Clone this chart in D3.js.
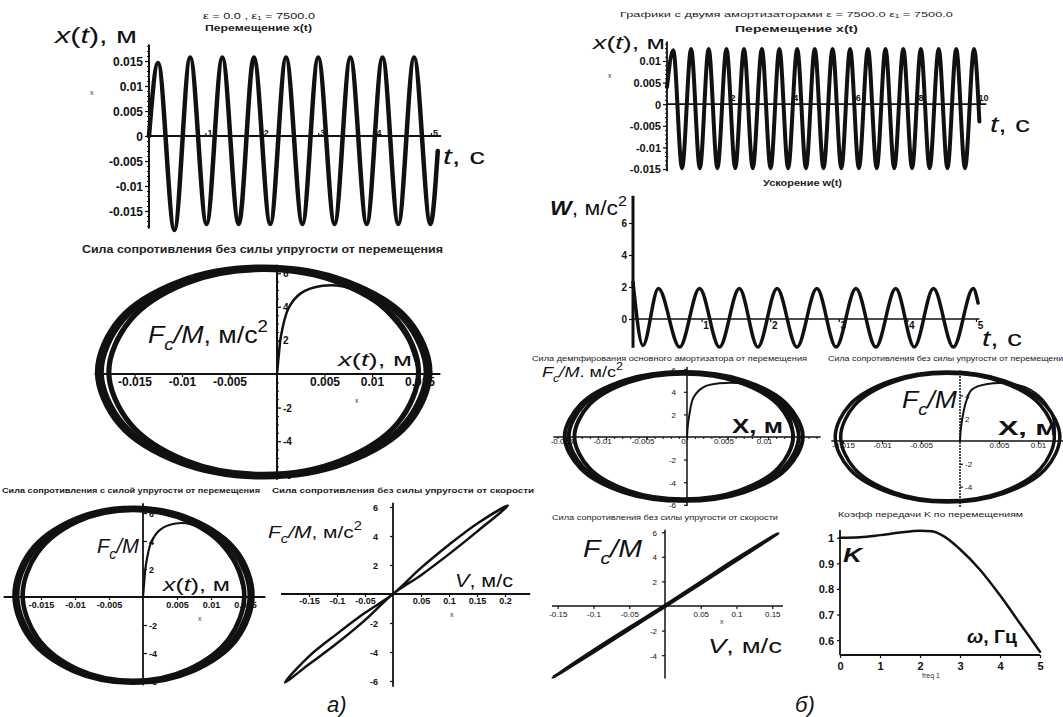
<!DOCTYPE html>
<html>
<head>
<meta charset="utf-8">
<script src="https://cdn.jsdelivr.net/npm/d3@7"></script>
<style>
  body { margin: 0; background: #fff; }
  text { font-family: "Liberation Sans", Arial, sans-serif; }
</style>
</head>
<body>
<svg id="chart" width="1063" height="717"></svg>
<script>
// ---- data ----

// а) displacement x(t): start, extrema, end  [t, x]
const a_disp = [[0, 0], [0.16, 0.0146], [0.45, -0.0188], [0.73, 0.0157], [1.02, -0.0176], [1.30, 0.0157],
    [1.59, -0.0176], [1.86, 0.0157], [2.15, -0.0176], [2.43, 0.0157], [2.72, -0.0176], [3.00, 0.0157],
    [3.29, -0.0176], [3.57, 0.0157], [3.86, -0.0176], [4.14, 0.0157], [4.42, -0.0176], [4.70, 0.0157],
    [4.99, -0.0176], [5.12, -0.003]];
const a_disp_xticks = [1, 2, 3, 4, 5];
const a_disp_yticks = [-0.015, -0.01, -0.005, 0, 0.005, 0.01, 0.015];

// б) displacement x(t), 0..10 s
const b_disp = [[0, 0.004], [0.20, 0.0125], [0.48, -0.0148], [0.77, 0.0128], [1.05, -0.0148], [1.33, 0.0128],
    [1.61, -0.0148], [1.90, 0.0128], [2.18, -0.0148], [2.46, 0.0128], [2.74, -0.0148], [3.03, 0.0128],
    [3.31, -0.0148], [3.59, 0.0128], [3.87, -0.0148], [4.16, 0.0128], [4.44, -0.0148], [4.72, 0.0128],
    [5.00, -0.0148], [5.29, 0.0128], [5.57, -0.0148], [5.85, 0.0128], [6.13, -0.0148], [6.42, 0.0128],
    [6.70, -0.0148], [6.98, 0.0128], [7.26, -0.0148], [7.55, 0.0128], [7.83, -0.0148], [8.11, 0.0128],
    [8.39, -0.0148], [8.68, 0.0128], [8.96, -0.0148], [9.24, 0.0128], [9.52, -0.0148], [9.81, 0.0128],
    [9.98, -0.004]];
const b_disp_xticks = [2, 4, 6, 8, 10];
const b_disp_yticks = [-0.015, -0.01, -0.005, 0, 0.005, 0.01];

// б) acceleration w(t)
const b_accel = [[0, 2.3], [0.145, -1.65], [0.37, 1.9], [0.68, -1.75], [0.97, 1.9], [1.26, -1.75], [1.55, 1.9],
    [1.82, -1.75], [2.10, 1.9], [2.39, -1.75], [2.68, 1.9], [2.96, -1.75], [3.25, 1.9], [3.54, -1.75],
    [3.83, 1.9], [4.10, -1.75], [4.38, 1.9], [4.67, -1.75], [4.96, 1.9], [5.03, 1.0]];
const b_accel_xticks = [1, 2, 3, 4, 5];
const b_accel_yticks = [0, 2, 4, 6];

// а) force/displacement loops [x, Fc/M] (outer, middle, inner turn, start-up arc)
const loop_a_outer = [[0.0161, 0.12], [0.0138, 3.25], [0.0073, 5.53], [-0.0014, 6.37], [-0.0102, 5.53], [-0.0166, 3.25],
    [-0.0189, 0.12], [-0.0166, -3.0], [-0.0102, -5.29], [-0.0014, -6.13], [0.0073, -5.29], [0.0138, -3.0]];
const loop_a_mid = [[0.0157, 0.12], [0.0134, 3.22], [0.0071, 5.49], [-0.0014, 6.32], [-0.0100, 5.49], [-0.0162, 3.22],
    [-0.0185, 0.12], [-0.0162, -2.98], [-0.0100, -5.25], [-0.0014, -6.08], [0.0071, -5.25], [0.0134, -2.98]];
const loop_a_inner = [[0.0149, 0.12], [0.0127, 3.17], [0.0067, 5.40], [-0.0014, 6.22], [-0.0096, 5.40], [-0.0155, 3.17],
    [-0.0177, 0.12], [-0.0155, -2.93], [-0.0096, -5.16], [-0.0014, -5.98], [0.0067, -5.16], [0.0127, -2.93]];
const loop_a_start = [[0, 0], [0.0002, 1.2], [0.0004, 2.2], [0.0012, 3.9], [0.0025, 4.8], [0.0048, 5.25],
    [0.007, 5.2], [0.0095, 4.6], [0.012, 3.4], [0.0138, 2.0], [0.0149, 0.12]];
const loop_a_xticks = [-0.015, -0.01, -0.005, 0.005, 0.01, 0.015];
const loop_a_yticks = [-6, -4, -2, 2, 4, 6];

// а) force/velocity loop [v, Fc/M]
const vel_a_loop = [[0, 0], [0.05, 1.3], [0.1, 2.75], [0.15, 4.3], [0.205, 6.1], [0.15, 4.85], [0.1, 3.4], [0.05, 1.8],
    [0, 0], [-0.05, -1.3], [-0.1, -2.75], [-0.15, -4.3], [-0.193, -6.1], [-0.15, -4.85], [-0.1, -3.4], [-0.05, -1.8]];
const vel_a_xticks = [-0.15, -0.1, -0.05, 0.05, 0.1, 0.15, 0.2];
const vel_a_yticks = [-6, -4, -2, 2, 4, 6];

// б) damping force of the main absorber vs displacement
const loop_b1_outer = [[0.0143, 0.05], [0.0123, 2.90], [0.0070, 4.99], [-0.0004, 5.75], [-0.0078, 4.99], [-0.0131, 2.90],
    [-0.0151, 0.05], [-0.0131, -2.80], [-0.0078, -4.89], [-0.0004, -5.65], [0.0070, -4.89], [0.0123, -2.80]];
const loop_b1_mid = [[0.0138, 0.05], [0.0119, 2.88], [0.0067, 4.94], [-0.0004, 5.70], [-0.0075, 4.94], [-0.0127, 2.88],
    [-0.0146, 0.05], [-0.0127, -2.78], [-0.0075, -4.84], [-0.0004, -5.60], [0.0067, -4.84], [0.0119, -2.78]];
const loop_b1_inner = [[0.0131, 0.05], [0.0113, 2.83], [0.0064, 4.86], [-0.0004, 5.60], [-0.0072, 4.86], [-0.0121, 2.83],
    [-0.0139, 0.05], [-0.0121, -2.73], [-0.0072, -4.76], [-0.0004, -5.50], [0.0064, -4.76], [0.0113, -2.73]];
const loop_b1_start = [[0, 0], [0.0001, 1.0], [0.0003, 2.0], [0.0008, 3.5], [0.002, 4.4], [0.004, 4.75],
    [0.007, 4.7], [0.0095, 4.0], [0.0115, 2.9], [0.0128, 1.6], [0.0131, 0.05]];
const loop_b1_xticks = [-0.015, -0.01, -0.005, 0, 0.005, 0.01];
const loop_b1_yticks = [-6, -4, -2, 2, 4, 6];

// б) resistance force without elastic force vs displacement
const loop_b2_outer = [[0.0128, 0.35], [0.0109, 3.20], [0.0056, 5.29], [-0.0016, 6.05], [-0.0088, 5.29], [-0.0141, 3.20],
    [-0.0160, 0.35], [-0.0141, -2.50], [-0.0088, -4.59], [-0.0016, -5.35], [0.0056, -4.59], [0.0109, -2.50]];
const loop_b2_inner = [[0.0121, 0.35], [0.0103, 3.15], [0.0053, 5.20], [-0.0016, 5.95], [-0.0085, 5.20], [-0.0135, 3.15],
    [-0.0153, 0.35], [-0.0135, -2.45], [-0.0085, -4.50], [-0.0016, -5.25], [0.0053, -4.50], [0.0103, -2.45]];
const loop_b2_start = [[0, 0], [0.0001, 1.0], [0.0003, 2.0], [0.0008, 3.5], [0.0015, 4.5], [0.0035, 5.0],
    [0.0068, 5.0], [0.009, 4.5], [0.011, 3.3], [0.012, 1.8], [0.0121, 0.35]];
const loop_b2_xticks = [-0.015, -0.01, -0.005, 0.005, 0.01];
const loop_b2_yticks = [-4, -2, 2, 4, 6];

// б) force vs velocity
const vel_b_loop = [[-0.157, -5.8], [-0.1, -3.75], [-0.05, -1.9], [0, -0.05], [0.05, 1.8], [0.1, 3.7], [0.158, 5.9],
    [0.1, 3.85], [0.05, 1.95], [0, 0.05], [-0.05, -1.75], [-0.1, -3.6]];
const vel_b_xticks = [-0.15, -0.1, -0.05, 0.05, 0.1, 0.15];
const vel_b_yticks = [-4, -2, 2, 4, 6];

// б) transfer coefficient K vs frequency
const k_freq = [0, 0.5, 1, 1.5, 2, 2.3, 2.6, 3, 3.5, 4, 4.5, 5];
const k_value = [1.0, 1.002, 1.01, 1.02, 1.027, 1.025, 1.005, 0.955, 0.875, 0.775, 0.665, 0.555];
const k_xticks = [0, 1, 2, 3, 4, 5];
const k_yticks = [0.6, 0.7, 0.8, 0.9, 1];

// ---- drawing ----
const svg = d3.select("#chart");
svg.append("rect").attr("width", 1063).attr("height", 717).attr("fill", "#fff");
const INK = "#111";

function curve_path(data, x, y, curve, width) {
    svg.append("path").datum(data)
        .attr("fill", "none").attr("stroke", INK).attr("stroke-width", width)
        .attr("stroke-linejoin", "round").attr("stroke-linecap", "round")
        .attr("d", d3.line().x(d => x(d[0])).y(d => y(d[1])).curve(curve));
}

function hline(x, y, from, to, width, dash) {
    svg.append("line").attr("x1", x(from)).attr("x2", x(to)).attr("y1", y(0)).attr("y2", y(0))
        .attr("stroke", INK).attr("stroke-width", width).attr("stroke-dasharray", dash || null);
}
function vline(x, y, from, to, width, dash) {
    svg.append("line").attr("x1", x(0)).attr("x2", x(0)).attr("y1", y(from)).attr("y2", y(to))
        .attr("stroke", INK).attr("stroke-width", width).attr("stroke-dasharray", dash || null);
}

// ticks on an axis crossing the origin, labels are optional
function ticks(orient, scale, pos, values, o) {
    o = o || {};
    const maker = {left: d3.axisLeft, right: d3.axisRight, top: d3.axisTop, bottom: d3.axisBottom}[orient];
    const ax = maker(scale).tickValues(values).tickSize(o.size || 3).tickPadding(o.pad || 2)
        .tickFormat(o.labels === false ? "" : d => String(d));
    const horiz = orient === "top" || orient === "bottom";
    const g = svg.append("g")
        .attr("transform", horiz ? `translate(0,${pos})` : `translate(${pos},0)`)
        .call(ax);
    g.select(".domain").remove();
    g.selectAll("line").attr("stroke", INK).attr("stroke-width", o.tw || 1.2);
    g.selectAll("text")
        .attr("fill", INK)
        .attr("font-family", "Liberation Sans, Arial, sans-serif")
        .attr("font-size", o.fs || 9)
        .attr("font-weight", o.fw || "bold");
    if (o.dx !== undefined) g.selectAll("text").attr("dx", o.dx);
    if (o.dy !== undefined) g.selectAll("text").attr("dy", o.dy);
    if (o.anchor) g.selectAll("text").attr("text-anchor", o.anchor);
    return g;
}

// text with italic / bold / sub / sup parts: flags i b _ ^
function rich(x0, y0, parts, size, width) {
    const t = svg.append("text").attr("x", x0).attr("y", y0).attr("font-size", size).attr("fill", INK);
    if (width) t.attr("textLength", width).attr("lengthAdjust", "spacingAndGlyphs");
    let shift = 0;
    parts.forEach(([s, f]) => {
        const ts = t.append("tspan").text(s);
        let want = 0;
        if (f.includes("_")) want = size * 0.3;
        if (f.includes("^")) want = -size * 0.45;
        if (want !== shift) ts.attr("dy", want - shift);
        shift = want;
        if (want !== 0) ts.attr("font-size", size * 0.7);
        if (f.includes("i")) ts.attr("font-style", "italic");
        if (f.includes("b")) ts.attr("font-weight", "bold");
    });
    return t;
}

function title(x0, y0, s, width, size, weight) {
    svg.append("text").attr("x", x0).attr("y", y0).text(s)
        .attr("font-size", size).attr("font-weight", weight || "bold").attr("fill", "#222")
        .attr("textLength", width).attr("lengthAdjust", "spacingAndGlyphs");
}
function tiny(x0, y0, s) {
    svg.append("text").attr("x", x0).attr("y", y0).text(s).attr("font-size", 7).attr("fill", "#333");
}

// ---------- а) x(t) ----------
{
    const x = d3.scaleLinear().domain([0, 5]).range([149, 431]);
    const y = d3.scaleLinear().domain([-0.015, 0.015]).range([211, 61]);
    hline(x, y, 0, 5.18, 2);
    vline(x, y, -0.0185, 0.0183, 2);
    ticks("left", y, x(0), d3.ticks(-0.018, 0.018, 36), {labels: false, size: 2, tw: 1});
    ticks("left", y, x(0), a_disp_yticks, {size: 4, fs: 12, dy: "0.35em"});
    ticks("top", x, y(0), a_disp_xticks, {size: 3, fs: 9, dx: 4, dy: "0.5em"});
    curve_path(a_disp, x, y, d3.curveMonotoneX, 4.5);
    rich(55, 43, [["x", "i"], ["(", ""], ["t", "i"], ["), м", ""]], 22, 82);
    rich(443, 164, [["t", "i"], [", с", ""]], 22, 42);
    title(203, 19, "ε = 0.0 , ε₁ = 7500.0", 112, 9, "normal");
    title(205, 31, "Перемещение x(t)", 107, 9);
    tiny(90, 95, "x");
}

// ---------- б) x(t) ----------
{
    const x = d3.scaleLinear().domain([0, 10]).range([667, 980]);
    const y = d3.scaleLinear().domain([-0.015, 0.01]).range([169, 61]);
    hline(x, y, 0, 10.2, 1.8);
    vline(x, y, -0.0155, 0.0145, 1.8);
    ticks("left", y, x(0), d3.ticks(-0.015, 0.014, 30), {labels: false, size: 2, tw: 1});
    ticks("left", y, x(0), b_disp_yticks, {size: 4, fs: 11, dy: "0.35em"});
    ticks("top", x, y(0), b_disp_xticks, {size: 3, fs: 9, dx: 3, dy: "0.2em"});
    curve_path(b_disp, x, y, d3.curveMonotoneX, 4);
    rich(593, 49, [["x", "i"], ["(", ""], ["t", "i"], ["), м", ""]], 19, 72);
    rich(990, 132, [["t", "i"], [", с", ""]], 22, 40);
    title(620, 17, "Графики с двумя амортизаторами ε = 7500.0    ε₁ = 7500.0", 333, 8, "normal");
    title(735, 32, "Перемещение x(t)", 123, 9);
    tiny(608, 78, "x");
}

// ---------- б) w(t) ----------
{
    const x = d3.scaleLinear().domain([0, 5]).range([633, 976]);
    const y = d3.scaleLinear().domain([-2, 7.5]).range([351, 199]);
    hline(x, y, 0, 5.05, 1.5);
    vline(x, y, -1.8, 7.7, 3);
    ticks("left", y, x(0), b_accel_yticks, {size: 4, fs: 10, dy: "0.35em"});
    ticks("bottom", x, y(0), b_accel_xticks, {size: 3, fs: 10, dx: 4, dy: "0.5em"});
    curve_path(b_accel, x, y, d3.curveMonotoneX, 3.5);
    rich(550, 215, [["W", "ib"], [", м/с", ""], ["2", "^"]], 20, 77);
    rich(982, 346, [["t", "i"], [", с", ""]], 22, 40);
    title(763, 186, "Ускорение w(t)", 79, 9);
}

// ---------- а) Fc/M vs x, no elastic force ----------
{
    const x = d3.scaleLinear().domain([-0.02, 0.017]).range([87, 438.5]);
    const y = d3.scaleLinear().domain([-6.3, 6.5]).range([479.8, 264.8]);
    hline(x, y, -0.0192, 0.0172, 2);
    vline(x, y, -6.3, 6.5, 2);
    ticks("right", y, x(0), d3.ticks(-6, 6, 30), {labels: false, size: 2, tw: 1});
    ticks("right", y, x(0), loop_a_yticks, {size: 4, fs: 10, dy: "0.35em"});
    ticks("bottom", x, y(0), loop_a_xticks, {size: 3, fs: 12, dy: "0.6em"});
    [loop_a_outer, loop_a_mid, loop_a_inner].forEach(l => curve_path(l, x, y, d3.curveCatmullRomClosed, 5.2));
    curve_path(loop_a_start, x, y, d3.curveCatmullRom, 2.5);
    rich(148, 343, [["F", "i"], ["c", "i_"], ["/M", "i"], [", м/с", ""], ["2", "^"]], 24, 120);
    rich(338, 366, [["x", "i"], ["(", ""], ["t", "i"], ["), м", ""]], 18, 74);
    title(82, 253, "Сила сопротивления без силы упругости от перемещения", 361, 10);
    tiny(355, 403, "x");
}

// ---------- а) with elastic force ----------
{
    const x = d3.scaleLinear().domain([-0.021, 0.018]).range([0.2, 265.4]);
    const y = d3.scaleLinear().domain([-6.6, 6.8]).range([689.4, 501.8]);
    hline(x, y, -0.0205, 0.018, 1.8);
    vline(x, y, -6.3, 6.7, 1.8);
    ticks("right", y, x(0), loop_a_yticks, {size: 4, fs: 9, dy: "0.35em"});
    ticks("bottom", x, y(0), loop_a_xticks, {size: 3, fs: 9, dy: "0.7em"});
    [loop_a_outer, loop_a_mid, loop_a_inner].forEach(l => curve_path(l, x, y, d3.curveCatmullRomClosed, 4.6));
    curve_path(loop_a_start, x, y, d3.curveCatmullRom, 2.2);
    rich(97, 553, [["F", "i"], ["c", "i_"], ["/M", "i"]], 20, 42);
    rich(163, 591, [["x", "i"], ["(", ""], ["t", "i"], ["), м", ""]], 18, 67);
    title(2, 493, "Сила сопротивления с силой упругости от перемещения", 258, 8);
    tiny(198, 621, "x");
}

// ---------- а) Fc/M vs v ----------
{
    const x = d3.scaleLinear().domain([-0.2, 0.25]).range([281, 533]);
    const y = d3.scaleLinear().domain([-6.5, 6.5]).range([688.25, 499.75]);
    hline(x, y, -0.2, 0.245, 1.8);
    vline(x, y, -6.4, 6.3, 1.8);
    ticks("left", y, x(0), vel_a_yticks, {size: 3, fs: 9, dy: "0.35em", pad: 12});
    ticks("bottom", x, y(0), vel_a_xticks, {size: 3, fs: 9, dy: "0.6em"});
    curve_path(vel_a_loop, x, y, d3.curveCatmullRomClosed, 2.5);
    rich(268, 538, [["F", "i"], ["c", "i_"], ["/M", "i"], [", м/с", ""], ["2", "^"]], 17, 94);
    rich(455, 587, [["V", "i"], [", м/с", ""]], 18, 58);
    title(272, 493, "Сила сопротивления без силы упругости от скорости", 262, 8);
    tiny(450, 617, "x");
}

// ---------- б) damping force of the main absorber ----------
{
    const x = d3.scaleLinear().domain([-0.0165, 0.0165]).range([553.35, 820.65]);
    const y = d3.scaleLinear().domain([-6.3, 6.3]).range([508.2, 365.8]);
    hline(x, y, -0.0165, 0.0165, 1.5);
    ticks("bottom", x, y(0), d3.ticks(-0.016, 0.016, 32), {labels: false, size: 2, tw: 1});
    vline(x, y, -6.1, 6.2, 1.5);
    ticks("left", y, x(0), loop_b1_yticks, {size: 3, fs: 8, fw: "normal", dy: "0.35em", pad: 8});
    ticks("bottom", x, y(0), loop_b1_xticks, {size: 3, fs: 8, fw: "normal", dy: "0.3em", dx: -4});
    [loop_b1_outer, loop_b1_mid, loop_b1_inner].forEach(l => curve_path(l, x, y, d3.curveCatmullRomClosed, 4));
    curve_path(loop_b1_start, x, y, d3.curveCatmullRom, 2);
    rich(542, 377, [["F", "i"], ["c", "i_"], ["/M", "i"], [". м/с", ""], ["2", "^"]], 15, 81);
    rich(732, 433, [["X", "b"], [", м", "b"]], 20, 51);
    title(532, 361, "Сила демпфирования основного амортизатора от перемещения", 275, 7, "normal");
}

// ---------- б) resistance force without elastic force ----------
{
    const x = d3.scaleLinear().domain([-0.017, 0.0135]).range([827.4, 1065.3]);
    const y = d3.scaleLinear().domain([-6, 6.3]).range([509.4, 369.2]);
    hline(x, y, -0.0165, 0.0135, 1.5);
    vline(x, y, -5.8, 6.2, 1.5, "2,1");
    ticks("right", y, x(0), loop_b2_yticks, {size: 3, fs: 8, fw: "normal", dy: "0.35em"});
    ticks("bottom", x, y(0), loop_b2_xticks, {size: 3, fs: 8, fw: "normal", dy: "0.3em"});
    [loop_b2_outer, loop_b2_inner].forEach(l => curve_path(l, x, y, d3.curveCatmullRomClosed, 3.5));
    curve_path(loop_b2_start, x, y, d3.curveCatmullRom, 2);
    rich(902, 408, [["F", "i"], ["c", "i_"], ["/M", "i"]], 24, 55);
    rich(998, 435, [["X", "b"], [", м", "b"]], 20, 60);
    title(828, 361, "Сила сопротивления без силы упругости от перемещения", 240, 7, "normal");
}

// ---------- б) Fc/M vs v ----------
{
    const x = d3.scaleLinear().domain([-0.17, 0.17]).range([543.45, 786.55]);
    const y = d3.scaleLinear().domain([-6, 6.3]).range([679.8, 528.5]);
    hline(x, y, -0.158, 0.165, 1.5);
    vline(x, y, -5.9, 6.2, 1.5);
    ticks("left", y, x(0), vel_b_yticks, {size: 3, fs: 8, fw: "normal", dy: "0.35em", pad: 5});
    ticks("bottom", x, y(0), vel_b_xticks, {size: 3, fs: 8, fw: "normal", dy: "0.8em"});
    curve_path(vel_b_loop, x, y, d3.curveCatmullRomClosed, 3);
    rich(583, 557, [["F", "i"], ["c", "i_"], ["/M", "i"]], 24, 59);
    rich(708, 653, [["V", "i"], [", м/с", ""]], 20, 74);
    title(552, 520, "Сила сопротивления без силы упругости от скорости", 226, 7, "normal");
    tiny(720, 624, "x");
}

// ---------- б) K(freq) ----------
{
    const x = d3.scaleLinear().domain([0, 5]).range([840, 1040]);
    const y = d3.scaleLinear().domain([0.542, 1.03]).range([655, 530]);
    svg.append("line").attr("x1", x(0)).attr("x2", x(5)).attr("y1", y(0.542)).attr("y2", y(0.542))
        .attr("stroke", INK).attr("stroke-width", 1.8);
    svg.append("line").attr("x1", x(0)).attr("x2", x(0)).attr("y1", y(0.542)).attr("y2", y(1.03))
        .attr("stroke", INK).attr("stroke-width", 1.8);
    ticks("left", y, x(0), k_yticks, {size: 3, fs: 11, dy: "0.35em", pad: 3});
    ticks("bottom", x, y(0.542), k_xticks, {size: 3, fs: 11, dy: "0.9em"});
    curve_path(k_freq.map((f, i) => [f, k_value[i]]), x, y, d3.curveMonotoneX, 2.5);
    rich(843, 562, [["K", "ib"]], 20, 19);
    rich(967, 643, [["ω", "ib"], [", Гц", "b"]], 18, 50);
    svg.append("text").attr("x", 922).attr("y", 678).text("freq 1").attr("font-size", 7).attr("fill", "#333");
    title(838, 517, "Коэфф передачи K по перемещениям", 185, 8, "normal");
}

// sub-figure captions
svg.append("text").attr("x", 327).attr("y", 712).text("а)")
    .attr("font-family", "Liberation Serif, Times New Roman, serif").attr("font-style", "italic")
    .attr("font-size", 22).attr("fill", INK);
svg.append("text").attr("x", 795).attr("y", 712).text("б)")
    .attr("font-family", "Liberation Serif, Times New Roman, serif").attr("font-style", "italic")
    .attr("font-size", 22).attr("fill", INK);
</script>
</body>
</html>
